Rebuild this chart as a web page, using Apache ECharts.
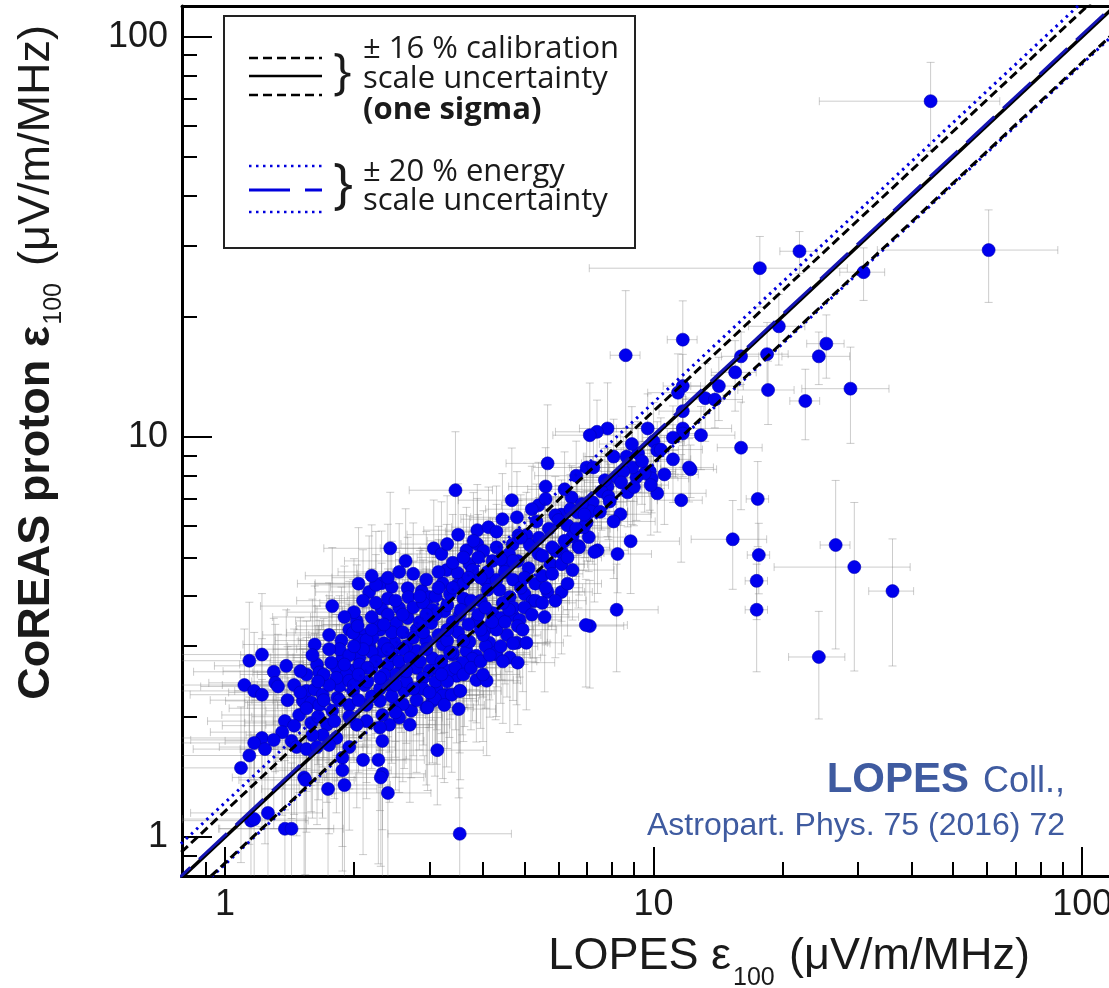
<!DOCTYPE html>
<html><head><meta charset="utf-8">
<script src="https://cdn.jsdelivr.net/npm/echarts@6/dist/echarts.min.js"></script>
<style>html,body{margin:0;padding:0;background:#fff}#c{width:1109px;height:988px}</style>
</head><body><div id="c"></div>
<script>
// axis extents and ticks
const xRange = [0.794, 115.5];
const yRange = [0.8, 119.3];
const majorTicks = [1, 10, 100];
const xMinorTicks = [0.9, 2, 3, 4, 5, 6, 7, 8, 9, 20, 30, 40, 50, 60, 70, 80, 90];
const yMinorTicks = [0.9, 2, 3, 4, 5, 6, 7, 8, 9, 20, 30, 40, 50, 60, 70, 80, 90];

// reference lines: y = factor * x
const centralFactor = 1.0;
const calibrationFactors = [1.16, 0.862];
const energyCentralFactor = 1.012;
const energyFactors = [1.22, 0.855];

// events: [LOPES eps100, CoREAS eps100, x error %, y error %]
const sparseHigh = [
[44.3,69,45,25],[60.5,29.3,45,26],[30.9,25.8,12,15],[21.9,29.1,10,12],[17.7,26.4,60,20],
[8.61,16.0,8,45],[11.7,17.5,8,25],[19.6,18.9,15,20],[25.3,17.1,10,18],[24.3,15.9,18,15],
[18.4,16.1,12,20],[16.0,15.9,10,15],[15.5,14.5,12,20],[14.2,13.4,14,18],[13.2,12.5,10,22],
[13.9,12.4,16,15],[18.5,13.1,15,18],[28.8,13.2,23,27],[22.6,12.3,8,20],[11.7,13.4,10,20],
[11.4,12.9,15,25],[11.7,11.6,12,18],[11.7,10.5,30,20],[11.7,10.2,8,22],[12.9,10.1,20,18],
[16.0,9.4,12,30],[12.2,8.3,15,15],[17.5,7.0,6,24],[15.3,5.55,20,25],[17.6,5.07,6,20],
[17.4,4.37,6,20],[17.4,3.70,6,30],[26.6,5.37,8,45],[29.4,4.73,35,45],[36.1,4.12,12,35],
[24.3,2.82,15,30]
];
const nearTen = [
[9.69,10.5,20,22],[11.1,9.96,15,20],[10.0,9.75,18,25],[10.2,9.25,12,18],[10.4,9.3,25,20],
[11.1,8.79,10,22],[12.1,8.39,14,18],[10.6,8.06,20,25],[10.2,7.23,30,20],[11.6,6.95,12,30],
[9.8,8.2,15,20],[9.9,7.88,22,18],[9.85,7.58,10,25],[9.53,8.11,18,20],[9.12,7.93,25,22],
[8.93,8.39,12,28],[8.65,8.93,20,18],[8.07,8.93,15,24],[8.2,7.93,22,20],[7.81,10.5,14,30],
[7.38,10.3,20,20],[7.1,10.1,18,35],[6.98,8.39,25,22],[7.24,8.39,12,18],[7.81,7.52,20,25],
[7.56,7.31,15,20],[7.85,7.1,28,22],[8.7,7.27,12,18],[7.21,6.87,20,30],[6.44,7.06,16,20],
[7.13,6.52,22,25],[6.65,6.48,14,22],[8.37,6.41,18,20],[8.07,6.15,25,28],[6.98,6.12,12,20],
[6.3,6.01,20,24],[6.47,5.65,15,22],[7.06,5.62,22,18],[8.84,5.49,30,26],[6.68,5.34,12,30],
[7.4,5.21,18,22],[7.28,5.16,15,25],[8.24,5.1,20,20],[6.13,5.13,25,24],[6.1,6.4,18,22],
[8.2,3.7,25,30],[7.1,3.37,20,30],[5.66,8.59,20,40],[5.6,7.52,18,25]
];
const midCluster = [
[3.45,7.36,22,40],[4.67,6.95,25,35],[5.39,6.75,18,28],[4.44,6.23,20,30],[5.9,6.37,15,25],
[6.87,5.95,20,22],[3.88,5.85,25,30],[4.12,5.95,18,26],[5.33,6.15,22,24],[5.05,5.68,15,28],
[4.84,5.68,20,22],[5.14,5.37,25,25],[4.69,5.39,18,30],[2.43,5.27,30,38],[3.07,5.27,25,32],
[3.2,5.1,20,35],[3.66,5.21,22,28],[3.88,5.4,18,30],[4.01,5.19,25,26],[2.64,4.9,28,35],
[3.29,4.65,20,30],[3.49,4.57,25,28],[3.72,4.81,18,32],[3.78,4.65,22,25],[4.21,4.9,20,28],
[4.52,4.78,25,24],[4.82,4.9,15,30],[5.11,4.7,22,26],[5.39,5.1,18,24],[5.75,4.81,20,22],
[6.1,4.81,15,28],[6.47,4.65,25,25],[2.32,4.31,30,35],[2.17,4.1,25,38],[2.45,4.22,28,30],
[2.67,4.19,22,34],[2.88,4.12,25,28],[2.32,3.72,30,30],[2.55,3.74,24,32],[2.68,3.98,28,28],
[3.0,3.98,22,30],[3.22,4.31,25,26],[3.49,4.27,20,32],[4.06,4.37,22,28],[4.37,4.15,18,25],
[4.62,3.98,25,30],[5.0,4.05,20,24],[5.22,3.89,15,28],[5.66,4.1,22,25],[6.1,4.1,18,30],
[5.57,3.55,20,35],[6.95,3.39,25,30],[1.78,3.78,32,40],[1.75,3.2,30,35],[2.03,3.47,28,38],
[1.95,3.3,25,32],[1.87,3.1,30,36],[2.12,3.2,26,30],[2.3,3.3,28,34],[2.51,3.43,24,30],
[2.67,3.53,30,28],[2.8,3.3,22,32],[3.03,3.43,25,30],[3.25,3.67,20,28],[3.53,3.59,24,32],
[3.72,3.8,22,26],[3.86,3.47,25,30],[4.08,3.33,20,28],[4.21,3.63,18,25],[4.42,3.53,22,30],
[4.69,3.59,20,26],[4.87,3.49,25,28],[4.79,3.06,18,30],[5.05,3.06,22,32],[4.14,3.06,25,28],
[4.3,2.86,20,30],[4.62,2.81,18,35],[4.82,2.73,22,30],[3.66,2.92,25,28],[3.86,2.84,20,32],
[3.62,2.7,24,30],[3.4,2.86,22,28],[3.22,3.03,26,30],[2.95,3.1,25,32],[2.8,2.92,28,30],
[2.65,3.0,24,34],[2.49,3.06,30,30],[2.33,2.92,26,32],[2.17,3.0,28,36],[2.06,2.81,30,30],
[1.88,2.81,32,34],[1.82,2.65,28,36],[1.99,2.61,30,32],[2.2,2.65,26,30],[2.4,2.7,28,34],
[2.58,2.61,24,30],[2.8,2.65,25,32],[3.0,2.61,22,28],[3.25,2.61,26,30],[3.47,2.53,24,32],
[3.86,2.47,22,30],[4.08,2.46,20,35],[3.53,2.32,25,30],[3.29,2.27,22,34],[3.05,2.19,28,30],
[2.95,2.11,25,36],[2.72,2.07,30,32],[2.51,2.14,26,34],[2.3,2.19,28,30],[2.14,2.14,30,36],
[1.95,2.14,32,32],[1.83,2.23,28,38],[1.85,2.39,30,34],[2.12,2.4,26,30],[2.42,2.4,28,32],
[2.62,2.32,24,36],[2.84,2.36,26,30]
];
const lowCluster = [
[1.62,3.03,32,40],[1.22,2.86,35,42],[1.14,2.76,38,40],[1.39,2.68,32,38],[1.3,2.59,35,36],
[1.11,2.4,40,38],[1.31,2.43,30,40],[1.33,2.38,34,35],[1.17,2.32,36,40],[1.22,2.27,32,38],
[1.55,2.55,30,36],[1.64,2.7,34,40],[1.66,2.58,30,35],[1.77,2.73,28,38],[1.92,2.55,30,34],
[2.06,2.7,26,32],[2.06,3.1,28,36],[2.21,3.15,26,34],[1.55,2.32,32,36],[1.62,2.34,30,38],
[1.52,2.19,34,35],[1.59,2.17,30,38],[1.69,2.27,28,34],[1.66,2.14,32,36],[1.78,2.07,30,38],
[1.49,2.02,34,36],[1.59,1.93,30,40],[1.73,1.91,28,36],[1.69,1.8,32,38],[1.82,1.77,30,35],
[1.38,1.95,34,40],[1.36,1.83,32,38],[1.43,1.74,30,36],[1.47,1.68,34,40],[1.55,1.66,30,38],
[1.64,1.68,28,36],[1.22,1.77,36,40],[1.17,1.72,34,38],[1.24,1.66,32,42],[1.14,1.6,36,40],
[1.09,1.49,38,42],[1.95,1.68,28,38],[1.88,1.58,30,40],[2.1,1.56,26,42],[2.28,1.56,28,45],
[2.33,1.74,25,40],[2.33,1.44,26,45],[1.88,1.47,30,44],[1.9,1.35,28,46],[1.74,1.32,30,45],
[1.53,1.41,32,44],[2.4,1.29,26,48],[1.26,1.15,34,45],[1.15,1.1,36,46],[1.17,1.11,32,44],
[1.38,1.05,30,48],[1.43,1.05,32,46],[3.13,1.65,28,27],[2.55,1.99,26,35],[2.42,1.91,28,36],
[2.3,1.88,30,38],[2.14,1.95,28,36],[2.03,1.91,30,38],[2.33,2.02,26,34],[2.7,1.91,24,36],
[1.54,1.39,30,42],[2.31,1.41,26,40],[3.53,1.02,32,30],[1.99,3.24,30,36],[2.04,3.37,28,34],
[2.14,3.11,26,32],[1.82,2.5,30,36],[1.95,2.46,28,34],[1.99,2.32,30,32],[2.25,4.27,28,36],
[2.27,3.39,26,34]
];
const lowerRight = [
[4.82,3.37,20,28],[4.06,3.0,22,30],[4.28,2.89,20,32],[3.78,2.79,24,30],[3.58,2.73,22,34],
[3.72,3.08,25,28],[3.4,2.89,20,30],[3.34,2.61,22,32],[3.12,2.65,24,30],[3.12,2.34,26,35],
[3.22,2.26,22,38],[3.38,2.27,24,36],[3.54,2.32,20,40],[3.09,2.22,25,36],[2.97,2.11,28,38],
[3.25,2.14,24,36],[3.51,2.09,22,40]
];
const denseCore = [
[2.2,2.9,28,34],[2.35,3.05,26,32],[2.45,2.85,30,30],[2.6,2.95,24,34],[2.75,3.15,26,30],
[2.9,3.25,22,32],[3.1,3.6,24,28],[3.3,3.8,22,30],[3.4,3.45,26,28],[3.6,3.95,20,30],
[3.95,3.9,22,26],[4.1,4.15,20,28],[4.3,4.4,18,26],[4.5,4.6,22,28],[4.7,4.4,20,24],
[4.9,4.2,18,26],[3.15,3.2,26,30],[3.3,3.1,24,32],[3.5,3.25,22,30],[3.7,3.4,24,28],
[3.9,3.6,20,30],[4.05,3.75,22,26],[2.55,2.75,28,32],[2.7,2.8,26,30],[2.85,2.75,24,34],
[2.5,2.55,28,32],[2.65,2.45,26,36],[2.9,2.5,24,32],[3.05,2.8,26,30],[3.2,2.75,22,34],
[2.45,3.25,28,30],[2.6,3.6,26,32],[2.75,3.75,24,30],[2.9,3.85,26,28],[3.1,4.0,22,30],
[2.95,4.4,24,32],[3.15,4.6,22,30],[3.4,4.85,20,32],[3.6,5.0,22,28],[2.75,4.55,26,34],
[2.55,4.6,28,32],[2.4,4.45,26,36],[2.2,4.5,30,34],[2.05,4.3,28,38],[2.1,3.9,30,34],
[2.25,3.85,26,32],[2.4,3.95,28,30],[2.0,3.65,30,36],[1.9,3.55,32,34],[2.2,3.55,28,32],
[2.4,3.6,26,30],[1.85,2.95,30,36],[1.95,2.85,28,34],[2.1,2.95,30,32],[2.25,2.75,26,34],
[2.35,2.55,28,32],[2.15,2.45,30,34],[2.0,2.4,28,36],[1.75,2.4,32,36],[1.7,2.55,30,38],
[1.9,2.7,28,34],[1.6,2.85,32,38],[1.5,2.6,34,36],[1.45,2.4,32,38],[1.4,2.2,34,36],
[1.65,2.0,30,38],[1.8,1.95,28,36],[1.95,2.0,30,34],[2.2,2.25,26,34],[2.45,2.25,28,32],
[2.6,2.15,26,36],[2.8,2.2,24,34],[2.9,2.35,26,32],[3.1,2.45,24,34],[3.3,2.45,22,32],
[3.45,2.65,24,30],[3.6,2.55,22,32],[3.75,2.65,20,30],[3.95,2.75,22,32],[4.15,2.85,20,30],
[4.4,3.0,22,28],[4.55,3.2,20,30],[4.3,3.3,22,28],[4.5,3.45,20,30],[4.7,3.75,22,26],
[5.0,3.75,20,28],[5.3,4.3,18,26],[5.5,4.5,20,24],[5.8,4.55,18,26],[5.9,5.2,20,24],
[6.2,5.5,18,22],[6.6,5.9,20,24],[5.4,5.6,22,26],[5.7,5.9,18,24],[6.0,6.2,20,22],
[4.9,5.6,22,28],[4.6,5.1,20,26],[4.3,5.3,22,28],[4.1,4.6,20,30],[3.9,5.0,22,28],
[6.4,6.6,18,22],[6.8,6.8,20,24],[7.5,6.5,16,22],[7.7,7.8,18,20],[8.5,8.2,16,22],
[9.2,9.1,18,20],[8.9,9.6,16,24],[9.4,8.7,20,22],[5.2,6.6,22,28],[5.6,7.0,20,26],
[6.2,7.4,18,24],[6.6,8.0,20,22],[4.8,6.3,22,30],[4.3,5.8,24,30],[3.8,5.5,22,32],
[3.5,5.7,24,34],[3.3,5.4,22,32],[6.9,6.4,18,22],[7.9,6.9,16,24],[8.4,7.7,18,22],
[9.0,7.5,16,20],[6.3,5.0,20,26],[6.7,5.3,18,24],[5.8,5.3,20,24],[5.6,4.2,22,28],
[5.3,3.9,20,30],[5.9,3.9,18,28],[6.3,4.3,20,26],[4.6,3.7,22,30],[4.0,3.2,24,30],
[3.6,3.1,22,32],[2.05,2.2,30,34],[2.3,2.35,28,32],[2.5,2.4,26,34],[1.7,2.2,32,36],
[1.55,2.1,34,38],[1.45,1.9,32,40],[1.6,1.8,30,38],[1.75,1.7,30,40],[1.3,1.75,36,40],
[1.5,2.3,32,36]
];
const coreFill = [
[2.6,3.25,26,32],[2.85,3.45,24,30],[3.05,3.7,22,32],[3.35,4.05,24,28],[3.6,4.3,22,30],
[3.15,4.2,24,32],[2.85,4.0,26,30],[2.5,3.9,28,32],[2.95,2.95,24,30],[3.35,2.9,22,32],
[3.55,3.7,24,28],[3.75,3.9,22,30],[4.45,3.85,20,28],[4.2,3.45,22,30],[3.95,3.3,24,28],
[2.35,3.4,28,32],[2.2,3.3,26,34],[2.0,3.0,30,34],[1.75,2.95,32,36],[1.65,2.45,30,38],
[1.85,2.2,30,36],[2.15,2.65,28,34],[2.4,2.95,26,32],[2.65,2.6,24,34],[2.75,2.35,26,32],
[3.0,2.3,24,34],[3.2,2.55,22,32],[2.5,2.05,28,36],[2.3,2.5,28,34],[2.05,2.55,30,32],
[4.0,2.55,22,32],[4.45,2.75,20,30],[4.7,3.05,22,28],[4.95,3.3,20,30],[5.2,3.6,22,28],
[5.5,3.85,20,26],[5.5,5.05,18,24],[5.0,4.45,20,26],[4.7,4.9,22,28],[4.4,4.95,20,30],
[3.95,4.45,22,28],[3.7,4.45,24,30],[3.4,4.2,22,32],[2.95,3.6,26,30],[3.3,3.3,24,30]
];

const events = [].concat(sparseHigh, nearTen, midCluster, lowCluster, lowerRight, denseCore, coreFill);

const chart = echarts.init(document.getElementById('c'), null, {renderer: 'canvas'});

function errBar(params, api) {
  const x = api.value(0), y = api.value(1);
  const ex = Math.min(api.value(2), 90) / 100 * x;
  const ey = Math.min(api.value(3), 90) / 100 * y;
  const a = api.coord([x - ex, y]), b = api.coord([x + ex, y]);
  const c = api.coord([x, y - ey]), d = api.coord([x, y + ey]);
  const cap = 4;
  const st = {stroke: 'rgba(120,120,120,0.38)', lineWidth: 1};
  return {type: 'group', children: [
    {type: 'line', shape: {x1: a[0], y1: a[1], x2: b[0], y2: b[1]}, style: st},
    {type: 'line', shape: {x1: c[0], y1: c[1], x2: d[0], y2: d[1]}, style: st},
    {type: 'line', shape: {x1: a[0], y1: a[1] - cap, x2: a[0], y2: a[1] + cap}, style: st},
    {type: 'line', shape: {x1: b[0], y1: b[1] - cap, x2: b[0], y2: b[1] + cap}, style: st},
    {type: 'line', shape: {x1: c[0] - cap, y1: c[1], x2: c[0] + cap, y2: c[1]}, style: st},
    {type: 'line', shape: {x1: d[0] - cap, y1: d[1], x2: d[0] + cap, y2: d[1]}, style: st}
  ]};
}

function refLine(k, color, width, dash, z) {
  const lo = xRange[0] * 0.5, hi = xRange[1] * 2;
  return {
    type: 'line', data: [[lo, lo * k], [hi, hi * k]], showSymbol: false, symbol: 'none',
    clip: true, silent: true, z: z,
    lineStyle: {color: color, width: width, type: dash}
  };
}

const font = 'Liberation Sans, Arial, sans-serif';
const legFont = '"Open Sans", sans-serif';
const annColor = '#3f5ba0';

function tx(x, y, text, size, opts) {
  const o = opts || {};
  return {
    type: 'text', x: x, y: y, rotation: o.rot || 0, z: 100,
    style: {
      text: text, fontSize: size, fontFamily: o.family || font, fontWeight: o.weight || 'normal',
      fill: o.color || '#1a1a1a', textAlign: o.align || 'left', align: o.align || 'left',
      textVerticalAlign: 'middle', verticalAlign: 'middle'
    }
  };
}
function ln(x1, y1, x2, y2, color, w, dash) {
  return {type: 'line', z: 100, shape: {x1: x1, y1: y1, x2: x2, y2: y2},
    style: {stroke: color, lineWidth: w, lineDash: dash || null}};
}

const graphics = [
  {type: 'rect', z: 99, shape: {x: 224, y: 16, width: 411, height: 232},
   style: {fill: '#fff', stroke: '#222', lineWidth: 2}},
  ln(249, 58, 322, 58, '#000', 2.5, [9, 5]),
  ln(249, 76, 322, 76, '#000', 2.5),
  ln(249, 95, 322, 95, '#000', 2.5, [9, 5]),
  ln(249, 166, 322, 166, '#0000dd', 2.5, [2.5, 4.5]),
  ln(249, 190, 322, 190, '#0000dd', 3, [41, 15, 17, 0]),
  ln(249, 212, 322, 212, '#0000dd', 2.5, [2.5, 4.5]),
  tx(333, 74, '}', 50, {family: legFont}),
  tx(333, 187, '}', 54, {family: legFont}),
  tx(363, 49, '± 16 % calibration', 31, {family: legFont}),
  tx(363, 79, 'scale uncertainty', 31, {family: legFont}),
  tx(363, 110, '(one sigma)', 31, {family: legFont, weight: 'bold'}),
  tx(363, 172, '± 20 % energy', 31, {family: legFont}),
  tx(363, 201, 'scale uncertainty', 31, {family: legFont}),
  // annotation
  tx(969, 780, 'LOPES', 42, {weight: 'bold', align: 'right', color: annColor}),
  tx(1065, 782, 'Coll.,', 36, {align: 'right', color: annColor}),
  tx(1065, 826, 'Astropart. Phys. 75 (2016) 72', 32, {align: 'right', color: annColor}),
  // x axis title
  tx(731, 957, 'LOPES ε', 45, {align: 'right'}),
  tx(733, 978, '100', 25),
  tx(1030, 957, '(μV/m/MHz)', 45, {align: 'right'}),
  // y axis title (rotated)
  tx(37, 326, 'CoREAS proton ε', 45, {align: 'right', weight: 'bold', rot: Math.PI / 2}),
  tx(54, 283, '100', 25, {align: 'right', rot: Math.PI / 2}),
  tx(37, 25, '(μV/m/MHz)', 45, {align: 'right', rot: Math.PI / 2})
];

const axisLab = {fontSize: 36, fontFamily: font, color: '#1a1a1a'};

chart.setOption({
  animation: false,
  backgroundColor: '#fff',
  grid: {left: 182, right: 0, top: 6, bottom: 112, containLabel: false, outerBoundsMode: 'none'},
  xAxis: [
    {type: 'log', logBase: 10, min: xRange[0], max: xRange[1], position: 'bottom',
     axisLine: {show: true, onZero: false, lineStyle: {color: '#000', width: 3}},
     axisTick: {show: true, inside: true, length: 29, customValues: majorTicks, lineStyle: {color: '#000', width: 2}},
     axisLabel: Object.assign({show: true, margin: 11, customValues: majorTicks, formatter: v => String(v)}, axisLab),
     splitLine: {show: false}, minorTick: {show: false}},
    {type: 'log', logBase: 10, min: xRange[0], max: xRange[1], position: 'bottom',
     axisLine: {show: false},
     axisTick: {show: true, inside: true, length: 14, customValues: xMinorTicks, lineStyle: {color: '#000', width: 2}},
     axisLabel: {show: false}, splitLine: {show: false}},
    {type: 'log', logBase: 10, min: xRange[0], max: xRange[1], position: 'top',
     axisLine: {show: true, onZero: false, lineStyle: {color: '#000', width: 3}},
     axisTick: {show: false}, axisLabel: {show: false}, splitLine: {show: false}}
  ],
  yAxis: [
    {type: 'log', logBase: 10, min: yRange[0], max: yRange[1], position: 'left',
     axisLine: {show: true, onZero: false, lineStyle: {color: '#000', width: 3}},
     axisTick: {show: true, inside: true, length: 30, customValues: majorTicks, lineStyle: {color: '#000', width: 2}},
     axisLabel: Object.assign({show: true, margin: 14, customValues: majorTicks, formatter: v => String(v)}, axisLab),
     splitLine: {show: false}},
    {type: 'log', logBase: 10, min: yRange[0], max: yRange[1], position: 'left',
     axisLine: {show: false},
     axisTick: {show: true, inside: true, length: 15, customValues: yMinorTicks, lineStyle: {color: '#000', width: 2}},
     axisLabel: {show: false}, splitLine: {show: false}}
  ],
  graphic: graphics,
  series: [
    {type: 'custom', renderItem: errBar, data: events, clip: true, z: 1, silent: true,
     dimensions: ['x', 'y', 'ex', 'ey'], encode: {x: 0, y: 1}},
    {type: 'scatter', data: events, symbol: 'circle', symbolSize: 13, z: 2, silent: true,
     itemStyle: {color: '#0000ee', borderColor: '#0000b0', borderWidth: 0.6, opacity: 1}},
    refLine(energyFactors[0], '#0000dd', 3, [2.5, 4.5], 3),
    refLine(energyFactors[1], '#0000dd', 3, [2.5, 4.5], 3),
    refLine(calibrationFactors[0], '#000', 3, [9, 4.5], 4),
    refLine(calibrationFactors[1], '#000', 3, [9, 4.5], 4),
    refLine(centralFactor, '#000', 3.4, 'solid', 5),
    refLine(energyCentralFactor, '#1414b4', 3, [38, 12], 6)
  ]
});
</script>
</body></html>
